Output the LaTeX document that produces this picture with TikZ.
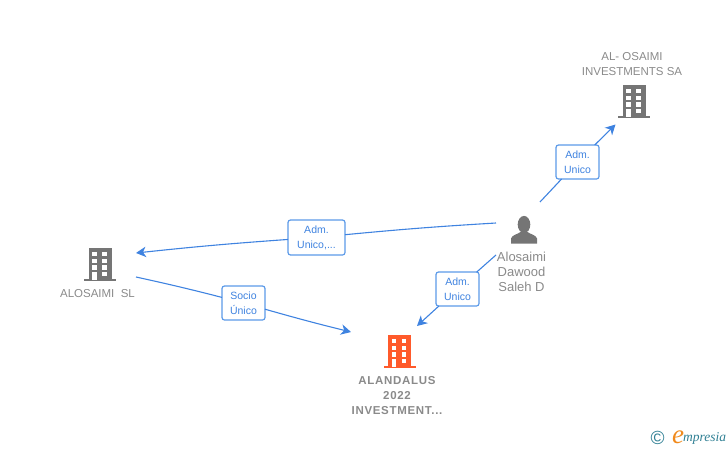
\documentclass[tikz,border=0pt]{standalone}
\usepackage{fontspec}
\setmainfont{Liberation Sans}
\newfontfamily\logofont{Liberation Serif}
\usetikzlibrary{positioning, arrows.meta}
\definecolor{linkblue}{HTML}{3F83E0}
\definecolor{boxblue}{HTML}{5C9AE8}
\definecolor{icongray}{HTML}{757575}
\definecolor{namegray}{HTML}{8A8A8A}
\definecolor{mainorange}{HTML}{FF5A2B}
\definecolor{logoteal}{HTML}{2F7F93}
\definecolor{logoorange}{HTML}{F08A1D}
\tikzset{
	every node/.append style={
		inner sep=0pt,
		outer sep=0pt,
	},
	labe/.append style={
		draw=boxblue,
		line width=1.2pt,
		rounded corners=2.5pt,
		fill=white,
		text=linkblue,
		align=center,
		font={\fontsize{10.5}{15}\selectfont},
		minimum height=34pt,
	},
	entity/.append style={
		text=namegray,
		align=center,
		font={\fontsize{11.5}{15}\selectfont},
	},
	link/.append style={
		draw=linkblue,
		line width=1.1pt,
	},
	linkarrow/.append style={
		link,
		-{Stealth[length=10pt,width=10.5pt,inset=3pt]},
	},
	building/.pic={
		\fill[pic actions] (-11.5,-16) rectangle (11.5,16);
		\fill[pic actions] (-16,15) rectangle (16,17.2);
		\foreach \wy in {-12,-5.4,1.3}{
			\fill[white] (-7.8,\wy) rectangle (-3.2,\wy+4.3);
			\fill[white] (2.2,\wy) rectangle (6.8,\wy+4.3);
		}
		\fill[white] (-7.8,8) rectangle (-3.2,16);
		\fill[white] (2.2,8) rectangle (6.8,12.3);
	},
	person/.pic={
		\fill[pic actions] (0,-5.5) ellipse (6.3 and 8.6);
		\fill[pic actions] (-13,13.5) -- (-13,8.5) .. controls (-12,5) and (-7,4.5) .. (-3.5,2) -- (3.5,2) .. controls (7,4.5) and (12,5) .. (13,8.5) -- (13,13.5) -- cycle;
	}
}
\begin{document}
\begin{tikzpicture}[x=1pt,y=-1pt]
		\useasboundingbox (0,0) rectangle (728,450);
		
		\pic[fill=icongray] at (634,101) {building};
		\pic[fill=icongray] at (100,264) {building};
		\pic[fill=mainorange] at (399.5,351) {building};
		\pic[fill=icongray] at (524,230) {person};
		
		\node(osaimi)[entity] at (632,64.5) {AL- OSAIMI\\INVESTMENTS SA};
		\node(sl)[entity] at (97.5,294) {ALOSAIMI\ \ SL};
		\node(alandalus)[entity, font={\fontsize{11.5}{15}\selectfont\bfseries\addfontfeatures{LetterSpace=6}}] at (397,396) {ALANDALUS\\2022\\INVESTMENT...};
		\node(saleh)[entity, font={\fontsize{13}{15}\selectfont}] at (521.5,272) {Alosaimi\\Dawood\\Saleh D};
		
		\node(admosaimi)[labe, minimum width=43pt] at (577.5,162) {Adm.\\Unico};
		\node(admsl)[labe, minimum width=57pt, minimum height=35pt] at (316.5,237.5) {Adm.\\Unico,...};
		\node(socio)[labe, minimum width=43pt] at (243.5,303) {Socio\\Único};
		\node(admalandalus)[labe, minimum width=43pt] at (457.5,289) {Adm.\\Unico};
		
		\coordinate(osaimiin) at (615.5,124.5);
		\coordinate(slin) at (136,253);
		\coordinate(slout) at (136,277);
		\coordinate(alandalusleft) at (351,332);
		\coordinate(alandalusright) at (417,326);
		\coordinate(salehright) at (540,202);
		\coordinate(salehleft) at (496,223);
		\coordinate(salehdown) at (496,255);
		
		\draw[link] (salehright) -- (admosaimi);
		\draw[linkarrow] (admosaimi) -- (osaimiin);
		
		\draw[link] (salehleft) to[bend right=1] (admsl);
		\draw[linkarrow] (admsl) to[bend right=1] (slin);
		
		\draw[link] (slout) to[bend left=1] (socio);
		\draw[linkarrow] (socio) to[bend right=1] (alandalusleft);
		
		\draw[link] (salehdown) -- (admalandalus);
		\draw[linkarrow] (admalandalus) -- (alandalusright);
		
		\node(logoc)[text=logoteal, font={\fontsize{19}{19}\selectfont}] at (657.5,438) {©};
		\node(logoe)[text=logoorange, font={\logofont\itshape\fontsize{27}{27}\selectfont}] at (678,437) {e};
		\node(logotext)[text=logoteal, font={\logofont\itshape\fontsize{13.5}{13.5}\selectfont}, anchor=west] at (683,438.5) {mpresia};
		\end{tikzpicture}
\end{document}
